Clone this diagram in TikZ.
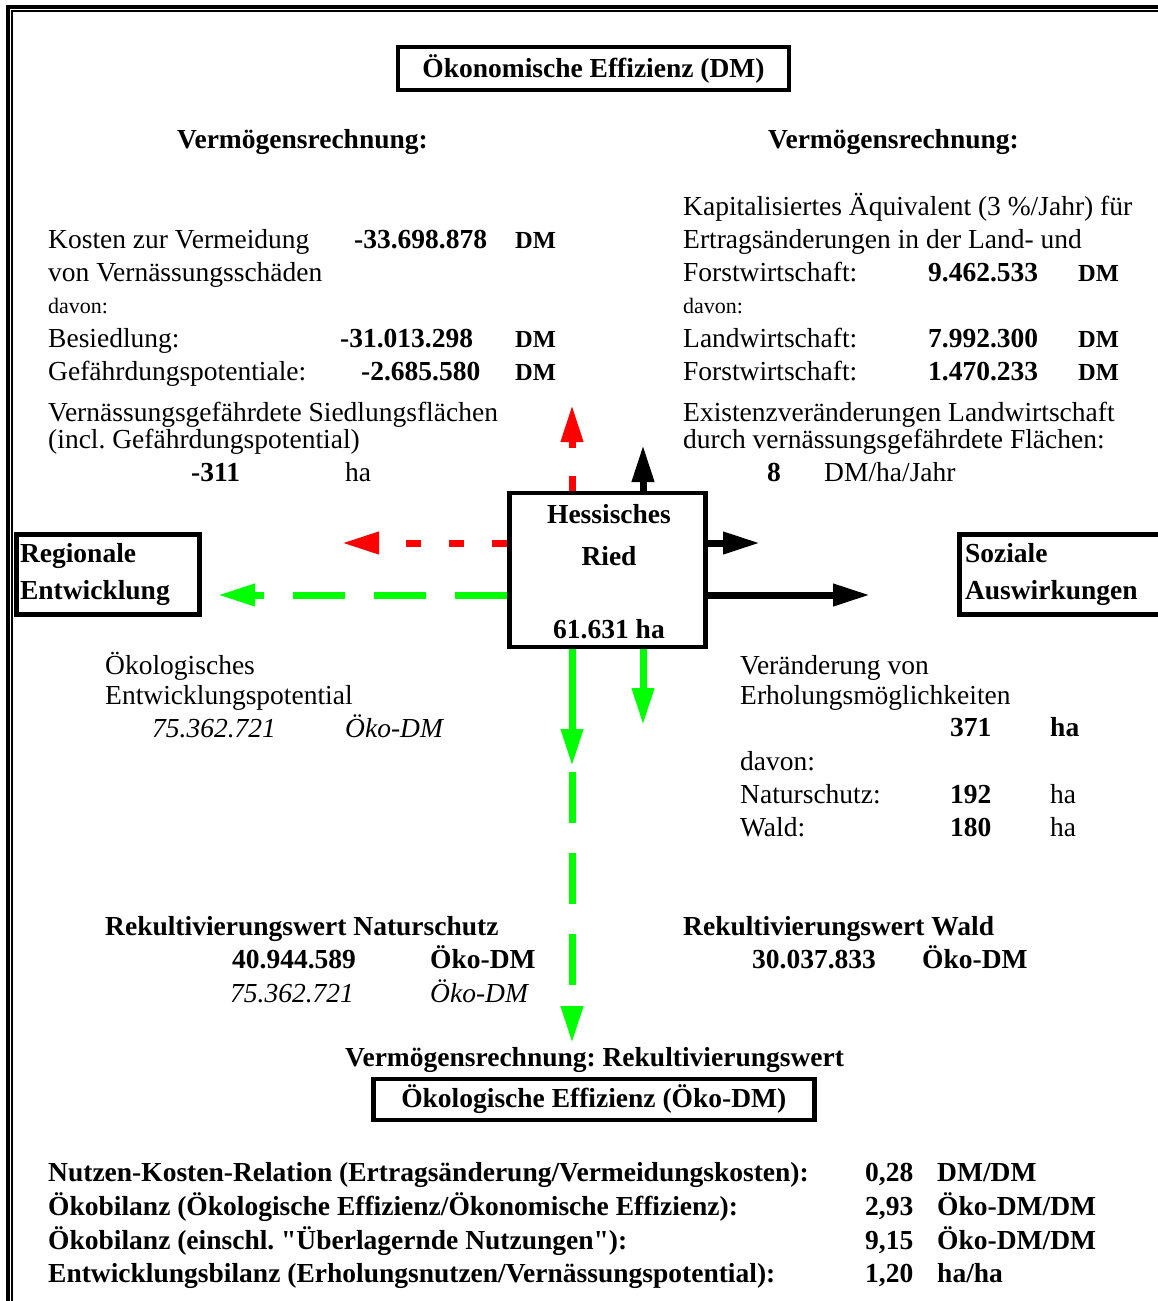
\documentclass[tikz,border=0pt]{standalone}
\usepackage{fontspec}
\setmainfont{Liberation Serif}[Ligatures=TeXOff]
\usepackage{tikz}
\usetikzlibrary{arrows.meta, positioning}
\frenchspacing
\definecolor{lightgreen}{RGB}{0,255,0}
\newcommand{\txtsize}{\fontsize{27.5}{33}\selectfont}
\newcommand{\smallsize}{\fontsize{22}{26}\selectfont}
\newcommand{\unitsize}{\fontsize{24.5}{30}\selectfont}
\newcommand{\boxwidth}{4.5pt}
\newcommand{\arrowwidth}{7pt}
\tikzstyle{txt} = [% plain text line
  inner sep=0pt,
  anchor=base west,
  font=\txtsize
  ]
\tikzstyle{btxt} = [% bold text line
  txt,
  font=\txtsize\bfseries
  ]
\tikzstyle{itxt} = [% italic text line
  txt,
  font=\txtsize\itshape
  ]
\tikzstyle{stxt} = [% small text line
  txt,
  font=\smallsize
  ]
\tikzstyle{unit} = [% bold unit
  txt,
  font=\unitsize\bfseries
  ]
\tikzstyle{titlebox} = [% framed heading
  rectangle,
  draw=black,
  line width=\boxwidth,
  inner sep=0pt,
  font=\txtsize\bfseries
  ]
\tikzstyle{sidebox} = [% framed side node
  titlebox,
  align=left,
  minimum height=80pt,
  font=\fontsize{27.5}{37}\selectfont\bfseries
  ]
\tikzstyle{arrowtip} = [% common arrow format
  line width=\arrowwidth,
  -{Triangle[length=37pt,width=21pt]}
  ]
\tikzstyle{redarrow} = [arrowtip, red, dash pattern=on 15pt off 28pt]
\tikzstyle{greenarrow} = [arrowtip, lightgreen]
\tikzstyle{blackarrow} = [arrowtip, black]

\begin{document}
\begin{tikzpicture}[x=1pt, y=-1pt]
\useasboundingbox (0,0) rectangle (1158,1301);

%%% Frame
\draw[line width=4pt] (8,1320) -- (8,6.5) -- (1180,6.5);
\draw[line width=2.3pt] (12.2,1320) -- (12.2,11.2) -- (1180,11.2);

%%% Boxes
\node[titlebox, minimum width=391pt, minimum height=43pt] (oekonom) at (593.5,68.5) {Ökonomische Effizienz (DM)};
\node[titlebox, minimum width=441pt, minimum height=41pt] (oekolog) at (593.75,1099.5) {Ökologische Effizienz (Öko-DM)};
\node[titlebox, minimum width=196pt, minimum height=154pt] (ried) at (607.5,570) {};
\node[sidebox, minimum width=183pt, text width=176pt] (regional) at (108,574.5) {\raisebox{-3pt}{Regionale}\\\raisebox{-3pt}{Entwicklung}};
\node[sidebox, minimum width=216pt, text width=205pt] (sozial) at (1067.5,574.5) {\raisebox{-3pt}{Soziale}\\\raisebox{-3pt}{Auswirkungen}};

%%% Central box text
\node[btxt, anchor=base] (ried1) at (609,523) {Hessisches};
\node[btxt, anchor=base] (ried2) at (609,565) {Ried};
\node[btxt, anchor=base] (ried3) at (609,638) {61.631 ha};

%%% Top left
\node[btxt] (vermL) at (177,148) {Vermögensrechnung:};
\node[txt] (kosten1) at (48,248) {Kosten zur Vermeidung};
\node[btxt] (kostenval) at (354,248) {-33.698.878};
\node[unit] (kostenunit) at (515,248) {DM};
\node[txt] (kosten2) at (48,281) {von Vernässungsschäden};
\node[stxt] (davonL) at (48,313) {davon:};
\node[txt] (besied) at (48,347) {Besiedlung:};
\node[btxt] (besiedval) at (340,347) {-31.013.298};
\node[unit] (besiedunit) at (515,347) {DM};
\node[txt] (gefahr) at (48,380) {Gefährdungspotentiale:};
\node[btxt] (gefahrval) at (361,380) {-2.685.580};
\node[unit] (gefahrunit) at (515,380) {DM};
\node[txt] (siedl1) at (48,421) {Vernässungsgefährdete Siedlungsflächen};
\node[txt] (siedl2) at (48,448) {(incl. Gefährdungspotential)};
\node[btxt] (siedlval) at (191,481) {-311};
\node[txt] (siedlunit) at (345,481) {ha};

%%% Top right
\node[btxt] (vermR) at (768,148) {Vermögensrechnung:};
\node[txt] (kapital1) at (683,215) {Kapitalisiertes Äquivalent (3 \%/Jahr) für};
\node[txt] (kapital2) at (683,248) {Ertragsänderungen in der Land- und};
\node[txt] (kapital3) at (683,281) {Forstwirtschaft:};
\node[btxt] (kapitalval) at (928,281) {9.462.533};
\node[unit] (kapitalunit) at (1078,281) {DM};
\node[stxt] (davonR) at (683,313) {davon:};
\node[txt] (landw) at (683,347) {Landwirtschaft:};
\node[btxt] (landwval) at (928,347) {7.992.300};
\node[unit] (landwunit) at (1078,347) {DM};
\node[txt] (forstw) at (683,380) {Forstwirtschaft:};
\node[btxt] (forstwval) at (928,380) {1.470.233};
\node[unit] (forstwunit) at (1078,380) {DM};
\node[txt] (exist1) at (683,421) {Existenzveränderungen Landwirtschaft};
\node[txt] (exist2) at (683,448) {durch vernässungsgefährdete Flächen:};
\node[btxt] (existval) at (767,481) {8};
\node[txt] (existunit) at (824,481) {DM/ha/Jahr};

%%% Middle left
\node[txt] (entw1) at (105,674) {Ökologisches};
\node[txt] (entw2) at (105,704) {Entwicklungspotential};
\node[itxt] (entwval) at (152,737) {75.362.721};
\node[itxt] (entwunit) at (345,737) {Öko-DM};

%%% Middle right
\node[txt] (erhol1) at (740,674) {Veränderung von};
\node[txt] (erhol2) at (740,704) {Erholungsmöglichkeiten};
\node[btxt] (erholval) at (950,736) {371};
\node[btxt] (erholunit) at (1050,736) {ha};
\node[txt] (davonM) at (740,770) {davon:};
\node[txt] (natur) at (740,803) {Naturschutz:};
\node[btxt] (naturval) at (950,803) {192};
\node[txt] (naturunit) at (1050,803) {ha};
\node[txt] (wald) at (740,836) {Wald:};
\node[btxt] (waldval) at (950,836) {180};
\node[txt] (waldunit) at (1050,836) {ha};

%%% Rekultivierung
\node[btxt] (rekN) at (105,935) {Rekultivierungswert Naturschutz};
\node[btxt] (rekNval) at (232,968) {40.944.589};
\node[btxt] (rekNunit) at (430,968) {Öko-DM};
\node[itxt] (rekNval2) at (230,1002) {75.362.721};
\node[itxt] (rekNunit2) at (430,1002) {Öko-DM};
\node[btxt] (rekW) at (683,935) {Rekultivierungswert Wald};
\node[btxt] (rekWval) at (752,968) {30.037.833};
\node[btxt] (rekWunit) at (922,968) {Öko-DM};
\node[btxt] (vermB) at (345,1066) {Vermögensrechnung: Rekultivierungswert};

%%% Bilanz
\node[btxt] (bilanz1) at (48,1181) {Nutzen-Kosten-Relation (Ertragsänderung/Vermeidungskosten):};
\node[btxt] (bilanz1val) at (865,1181) {0,28};
\node[btxt] (bilanz1unit) at (937,1181) {DM/DM};
\node[btxt] (bilanz2) at (48,1215) {Ökobilanz (Ökologische Effizienz/Ökonomische Effizienz):};
\node[btxt] (bilanz2val) at (865,1215) {2,93};
\node[btxt] (bilanz2unit) at (937,1215) {Öko-DM/DM};
\node[btxt] (bilanz3) at (48,1249) {Ökobilanz (einschl. "Überlagernde Nutzungen"):};
\node[btxt] (bilanz3val) at (865,1249) {9,15};
\node[btxt] (bilanz3unit) at (937,1249) {Öko-DM/DM};
\node[btxt] (bilanz4) at (48,1282) {Entwicklungsbilanz (Erholungsnutzen/Vernässungspotential):};
\node[btxt] (bilanz4val) at (865,1282) {1,20};
\node[btxt] (bilanz4unit) at (937,1282) {ha/ha};

%%% Arrow ends
\coordinate (redup) at (572,405);
\coordinate (redleft) at (342,543);
\coordinate (blackup) at (643,445);
\coordinate (blackright1) at (760,543);
\coordinate (blackright2) at (870,595);
\coordinate (greenleft) at (218,595);
\coordinate (greendown1) at (572,766);
\coordinate (greendown2) at (572,1043);
\coordinate (greenshort) at (643,725);

%%% Arrows
\draw[redarrow] (redup |- ried.north) -- (redup);
\draw[redarrow] (ried.west |- redleft) -- (redleft);
\draw[blackarrow] (blackup |- ried.north) -- (blackup);
\draw[blackarrow] (ried.east |- blackright1) -- (blackright1);
\draw[blackarrow] (ried.east |- blackright2) -- (blackright2);
\draw[greenarrow, dash pattern=on 52pt off 29pt] (ried.west |- greenleft) -- (greenleft);
\draw[greenarrow] (greendown1 |- ried.south) -- (greendown1);
\draw[greenarrow] (greenshort |- ried.south) -- (greenshort);
\draw[greenarrow, dash pattern=on 51pt off 30pt, dash phase=75pt] (greendown1) -- (greendown2);

\end{tikzpicture}
\end{document}
